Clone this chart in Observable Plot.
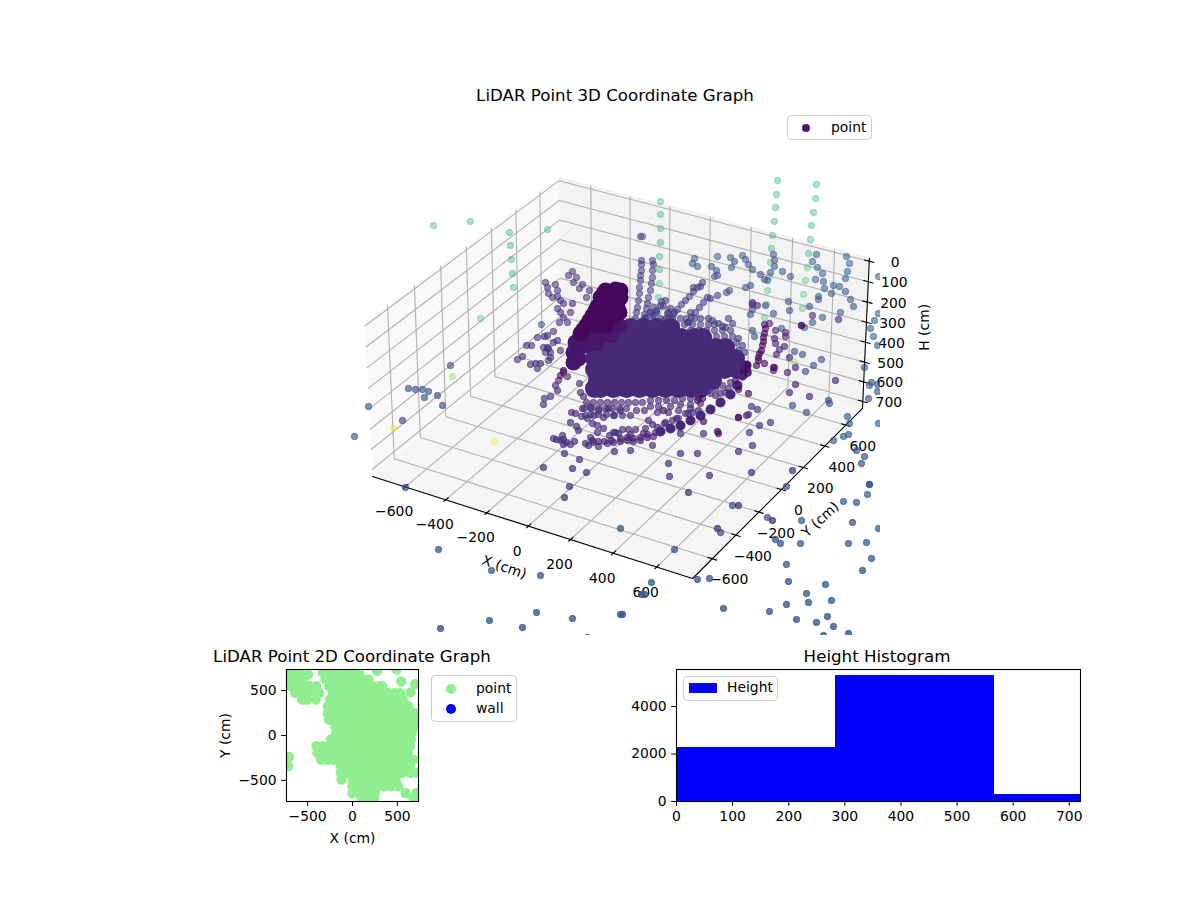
<!DOCTYPE html>
<html><head><meta charset="utf-8">
<script src="https://cdn.jsdelivr.net/npm/d3@7"></script>
<script src="https://cdn.jsdelivr.net/npm/@observablehq/plot@0.6"></script>
<style>
html,body{margin:0;padding:0;background:#fff}
#root{position:relative;width:1200px;height:900px;overflow:hidden;font-family:"DejaVu Sans",sans-serif;color:#000}
#root>div{position:absolute}
.title{font-size:16.67px;transform:translateX(-50%);white-space:nowrap;line-height:1}
.legend{background:rgba(255,255,255,.8);border:1px solid #ccc;border-radius:4px;box-sizing:border-box;font-size:13.9px}
.legend span{position:absolute;white-space:nowrap;line-height:1}
</style></head><body><div id="root"></div>
<script>
// ---- Tick values and labels ----
const xyTicks3D = [-600,-400,-200,0,200,400,600];
const hTicks3D = [0,100,200,300,400,500,600,700];
const ticks2D = [-500,0,500];
const histXTicks = [0,100,200,300,400,500,600,700];
const histYTicks = [0,2000,4000];
// ---- Histogram of heights ----
const binStart = [0,284,567];
const binEnd = [284,567,720];
const binCount = [2280,5300,290];
// ---- 2D plan view, X and Y in cm, row by row (Y, then the Xs) ----
const planRows = [
[700,[-700,-640,-590,-330,-260,-190,-120,-50,20,70]],
[625,[-690,-620,-550,-300,-230,-160,-90,-20,50,120,180]],
[550,[-690,-620,-550,-480,-400,-260,-190,-120,-50,20,90,160,230,300,330]],
[475,[-640,-570,-500,-400,-370,-220,-150,-80,-10,60,130,200,270,340,400,470,530]],
[400,[-560,-505,-409,-250,-210,-140,-70,0,70,140,210,280,350,420,490,560]],
[325,[-275,-210,-140,-70,0,70,140,210,280,350,420,490,560,625]],
[250,[-275,-210,-140,-70,0,70,140,210,280,350,420,490,560,625,690]],
[175,[-260,-190,-120,-50,20,90,160,230,300,370,440,510,580,650,710]],
[100,[-190,-120,-50,20,90,160,230,300,370,440,510,580,650,700]],
[30,[-180,-110,-40,30,100,170,240,310,380,450,520,590,660]],
[-45,[-240,-170,-100,-30,40,110,180,250,320,390,460,530,600,650]],
[-120,[-400,-330,-260,-190,-120,-50,20,90,160,230,300,370,440,510,580,640]],
[-195,[-390,-320,-250,-180,-110,-40,30,100,170,240,310,380,450,520,590,620]],
[-270,[-350,-280,-210,-130,-60,10,80,150,220,290,360,430,510,570,676]],
[-340,[-717,-130,-60,10,80,150,220,290,360,430,500,550,636]],
[-415,[-130,-60,10,80,150,220,290,360,430,500,560,647,725]],
[-490,[-123,0,70,140,210,280,350,420,480]],
[-565,[0,70,140,210,280,350,430,509]],
[-640,[0,70,140,175,210,250,591,714]],
[-690,[100,175,240,676]],
[-238,[-706]]
];
const planExtraX = [-494,275,490,543,695,647];
const planExtraY = [680,721,736,602,572,480];
// ---- 3D scatter: where each point falls on the projected view plane, grouped by colour value ----
const colourTeal = .62, colourGreen = .7, colourLime = .82, colourYellow = .97;
const colourSteel = .3, colourSlate = .25, colourFan = .17, colourPurple = .13, colourDeep = .09, colourDark = .02, colourCore = .11, colourWallLow = .06;
const viewTeal = [[433,225],[470,221],[509,232],[510,245],[511,259],[512,273],[513,287],[547,229],
[660,201],[660,214],[660,228],[660,242],[659,256],[659,269],[777,180],[776,194],[775,207],[774,221],[772,235],[771,248],
[816,184],[815,198],[813,212],[811,225],[810,239],[808,253]];
const viewGreen = [[659,283],[658,297],[658,311],[770,262],[769,276],[767,290],[766,304],[764,317],[807,267],[805,280],[803,294],[802,308],[480,318]];
const viewLime = [[452,376],[794,362]];
const viewYellow = [[393,428],[494,441]];
const viewSteel = [[878,276],[874,320],[870,328],[873,336],[877,345],[864,367],[878,313],[869,385],[877,384],[541,324],
[853,306],[850,299],[845,291],[839,286],[833,285],[831,293],[824,288],[823,281],[822,273],[818,296],[818,299],[822,317],[840,312],[812,322],[804,327],
[845,278],[847,271],[849,263],[846,256],[817,267],[812,261],[816,254],[815,279],
[354,436],[368,406],[438,549],[491,570],[540,575],[489,620],[522,627],[536,612],[572,618],[587,637],[620,614],
[651,582],[709,578],[801,520],[800,543],[786,564],[788,581],[786,604],[796,619],[806,593],[808,602],[816,622],[823,635],[827,616],[833,626],[831,600],[825,584],[848,633],[862,570],[871,558],[866,542],[848,543],[843,501],[867,494],[869,484],[878,528],[878,423],[847,416],[849,423],[848,434],[843,436],[833,440],[829,403],[723,608],[769,611]];
const viewSlate = [[640,236],[642,236],[694,258],[692,263],[697,266],[717,256],[730,257],[734,261],[731,267],[711,266],[716,270],[717,275],[714,276],[742,255],[745,259],[748,264],[752,269],[760,274],[764,279],[767,280],[770,272],[774,266],[774,260],[773,254],[782,271],[790,276],[745,287],[750,285],[726,292],[729,290],
[788,301],[789,310],[809,306],[773,313],[765,305],[752,309],[750,314],[781,328],[752,330],[754,336],[794,351],[802,354],[821,359],[813,365],[805,371],
[408,388],[415,389],[422,389],[428,391],[437,395],[424,397],[450,365],[402,420],[442,405],[405,487],[440,628],[620,528],[622,614],[641,594],[644,594],[697,579],[674,549],[720,532],[732,505],[767,517],[775,539],[780,543],[871,382],[877,391],[868,398],[828,400],[792,405],[806,412],[786,486],[856,450],[861,463],[864,456],[869,484],[856,502],[852,522]];
const viewFan = [[641,260],[641,264],[641,270],[640,275],[640,280],[639,287],[639,293],[638,300],[637,307],[636,312],[635,318],[652,260],[653,264],[652,270],[652,277],[651,283],[650,290],[648,297],[647,303],[646,308],[644,314],[642,320],
[702,282],[697,287],[693,291],[689,296],[685,300],[681,304],[677,309],[673,314],[669,318],[717,295],[710,298],[707,297],[703,302],[699,307],[695,312],[691,317],[687,322],[661,301],[663,306],[660,305],[656,310],[653,315],[693,287],[700,286],[728,318],[732,323],[670,308],[667,313],[663,320],[653,307],[650,312],[645,317],[688,322],[665,300],[712,320],[718,323],[725,327],
[650,312],[656,312],[668,312],[674,312],[690,312],[645,318],[652,318],[660,318],[666,318],[672,318],[680,318],[686,318],[694,318],[700,318],[708,318],
[652,324],[660,324],[668,324],[676,324],[684,324],[692,324],[700,324],[708,324],[714,324],[722,326],[690,330],[698,330],[706,330],[714,330],[722,330],[730,330],
[700,336],[708,336],[716,336],[724,336],[732,336],[738,338],[712,342],[720,342],[728,342],[736,342],[742,345],[722,350],[730,350],[738,350],[744,352],[735,358],[741,360],[745,366],[748,372]];
const viewPurple = [[572,271],[568,275],[576,277],[582,284],[573,282],[579,288],[589,290],[586,297],[545,282],[547,287],[548,293],[552,297],[555,284],[557,290],[557,296],[560,300],[563,303],[557,308],[560,312],[570,312],[563,317],[567,322],[559,322],
[553,331],[547,335],[544,336],[537,337],[526,345],[531,345],[517,359],[522,356],[543,347],[548,348],[553,342],[557,340],[560,350],[550,357],[548,360],[530,364],[535,363],[540,363],[537,368],[547,347],[545,352],[550,352],
[563,372],[567,376],[558,380],[555,385],[557,390],[579,383],[580,392],[583,396],[550,396],[544,398],[543,404],
[543,467],[572,468],[586,472],[569,486],[564,497],[579,459],[564,453],[553,438],[556,439],[560,440],[563,439],[566,442],[570,444],[574,441],[563,444],[562,435],[570,422],[576,426],[578,430],[571,412],[575,413],
[585,443],[588,445],[593,442],[598,446],[607,443],[613,442],[590,437],[597,432],[603,428],[615,432],[609,435],[614,451],[582,408],[585,415],[581,416],[590,407],[593,415],[598,410],[603,417],[608,408],[613,415],[620,410],[592,423],[597,425],[587,418],
[630,450],[652,445],[680,453],[697,453],[668,463],[669,476],[709,475],[688,492],[738,451],[752,445],[751,472],[738,505],[717,528],[772,520],[792,470],[770,422],[759,425],[749,432],[703,433],[680,433],[751,406],[757,409],[746,415],[748,414],[738,417],
[710,393],[715,395],[720,393],[725,392],[730,382],[722,385],[735,385],[715,388],[708,390],[728,388],[700,403],[690,408],[698,410],[688,413],[676,418],[664,423],[652,424],[648,420],[657,427],[665,422],[672,420],[678,418],[685,413],[692,412],[613,432],[622,429],[628,429],[635,429],[645,428],[655,432],[643,433],[630,434],[618,433],
[586,402],[593,402],[600,402],[607,402],[614,402],[621,402],[628,402],[635,402],[642,402],[650,400],[658,400],[666,400],[674,400],[682,398],[690,398],[698,397],
[584,408],[591,408],[598,408],[605,408],[612,408],[619,408],[626,408],[650,406],[658,406],[670,406],[680,404],[690,404],[590,414],[598,414],[606,414],[614,415],[622,415],[630,415],[636,410],[644,410],[657,412],[668,412],[678,410]];
const viewDeep = [[620,441],[627,440],[633,441],[640,440],[647,437],[653,436],[620,438],[627,437],[633,438],[640,437],[647,434],[604,441],[611,440],[592,440],[598,441],
[752,302],[752,304],[757,305],[769,323],[801,325],[812,315],[838,319],[775,330],[785,332],[785,336],[774,338],[775,343],[784,346],[779,349],[776,354],[789,357],[774,367],[773,370],[795,367],[787,372],[835,380],[795,384],[789,392],[809,396],[572,303]];
const viewDark = [[764,324],[765,328],[764,333],[763,337],[763,341],[762,345],[761,350],[759,353],[758,357],[758,360],[756,365],[764,363],[773,367],[801,325],[717,431],[718,433],
[747,364],[747,369],[747,373],[743,370],[735,380],[738,389],[748,393],[702,398],[697,400],[663,410],[703,421],[738,417],[563,370],[560,375]];
// The solid masses where single points can no longer be told apart
const wallMass = [[605,290],[615,289],[620,290],[603,293],[612,293],[600,297],[610,297],[620,297],[597,306],[607,306],[617,306],[619,312],[595,310],[592,315],[602,315],[612,315],[589,320],[586,325],[596,325],[606,325],[583,329],[580,333]];
const wallLow = [[590,335],[600,335],[610,335],[618,325],[575,342],[585,345],[595,343],[573,352],[578,358],[573,362]];
const bandMass = [[660,431],[670,428],[680,425],[690,420],[700,415],[710,409],[720,402],[730,394],[737,385],[742,375],[746,365]];
const coreRows = [
[327,[617,630,643,656,670]],
[337,[605,616,629,642,655,668,681,694,702]],
[347,[598,611,624,637,650,663,676,689,702,715,725]],
[358,[594,607,620,633,646,659,672,685,698,711,724,735]],
[369,[594,607,620,633,646,659,672,685,698,711,724,737]],
[380,[597,610,623,636,649,662,675,688,701,712]],
[388,[594,600,613,626,639,652,665,678,691,700]]
];

// ---- Matplotlib-style 3D view (elevation 30, azimuth -60) ----
const limXY = 733, pad = 1/48;
const paneXY = limXY*(1+2*pad), paneLow = 735, paneTop = -15;
const boxK = 1.8294640721620434/Math.hypot(4,4,3), box=[4*boxK,4*boxK,.553];
const el = 30*Math.PI/180, az = -60*Math.PI/180, dist = 10;
const W=[Math.cos(el)*Math.cos(az),Math.cos(el)*Math.sin(az),Math.sin(el)];
const Un=Math.hypot(W[1],W[0]), U=[-W[1]/Un,W[0]/Un,0];
const Vv=[W[1]*U[2]-W[2]*U[1],W[2]*U[0]-W[0]*U[2],W[0]*U[1]-W[1]*U[0]];
function raw(x,y,h){
  const p=[x/(2*limXY)*box[0],y/(2*limXY)*box[1],((720-h)/720-.5)*box[2]];
  const dp=(a)=>a[0]*p[0]+a[1]*p[1]+a[2]*p[2];
  const d=dist-dp(W);
  return [dp(U)/d,dp(Vv)/d];
}
const aL=raw(-paneXY,-paneXY,paneLow), aR=raw(paneXY,paneXY,paneLow), aF=raw(paneXY,-paneXY,paneLow);
const kU=(862-372)/(aR[0]-aL[0]), kV=(578-476)/(aF[1]-aL[1]);
function proj(x,y,h){const r=raw(x,y,h);return {u:372+(r[0]-aL[0])*kU,v:578+(r[1]-aF[1])*kV};}
function path(list,id){return list.map(([x,y,h])=>({...proj(x,y,h),id}));}

const P=paneXY, L=paneLow, T=paneTop;
const panes=[
 {fill:"#f9f9f9",pts:path([[-P,-P,L],[-P,P,L],[-P,P,T],[-P,-P,T]],"l")},
 {fill:"#f2f2f2",pts:path([[-P,P,L],[P,P,L],[P,P,T],[-P,P,T]],"b")},
 {fill:"#f5f5f5",pts:path([[-P,-P,L],[P,-P,L],[P,P,L],[-P,P,L]],"f")}
];
const grid=[];
xyTicks3D.forEach((t,i)=>{
  grid.push(...path([[t,-P,L],[t,P,L],[t,P,T]],"x"+i));
  grid.push(...path([[P,t,L],[-P,t,L],[-P,t,T]],"y"+i));
});
hTicks3D.forEach((t,i)=>grid.push(...path([[-P,-P,t],[-P,P,t],[P,P,t]],"h"+i)));
const axes=[...path([[-P,-P,L],[P,-P,L]],"ax"),...path([[P,-P,L],[P,P,L]],"ay"),...path([[P,P,L],[P,P,T]],"az")];
xyTicks3D.forEach((t,i)=>{
  axes.push(...path([[t,-P+20,L],[t,-P-14,L]],"tx"+i));
  axes.push(...path([[P-20,t,L],[P+20,t,L]],"ty"+i));
});
hTicks3D.forEach((t,i)=>axes.push(...path([[P-22,P,t],[P+22,P,t]],"th"+i)));
const fmt=d3.format("d"), lab=t=>fmt(t).replace("-","\u2212");
const xLabels=xyTicks3D.map(t=>({...proj(t,-P,L),text:lab(t)}));
const yLabels=xyTicks3D.map(t=>({...proj(P,t,L),text:lab(t)}));
const hLabels=hTicks3D.map(t=>({...proj(P,P,t),text:lab(t)}));

const table=groups=>groups.flatMap(([a,c])=>a.map(([u,v])=>({u,v,c})));
const bright=table([[viewTeal,colourTeal],[viewGreen,colourGreen],[viewLime,colourLime],[viewYellow,colourYellow]]);
const dots=table([[viewSteel,colourSteel],[viewSlate,colourSlate],[viewFan,colourFan]]);
const dotsFront=table([[viewPurple,colourPurple],[viewDeep,colourDeep],[viewDark,colourDark]]);
const core=coreRows.flatMap(([v,us])=>us.map(u=>({u,v})));

const common={r:3.2,strokeWidth:1,x:"u",y:"v",fill:"c",stroke:"c",fillOpacity:"v",strokeOpacity:"v",clip:"frame"};
const txt={x:"u",y:"v",text:"text",fill:"black",fontSize:13.9,lineAnchor:"middle"};
const mass=(data,r,c)=>Plot.dot(data,{x:d=>d[0],y:d=>d[1],r,fill:()=>c,clip:"frame"});
const fig3d=Plot.plot({
  width:1200,height:900,marginLeft:350,marginRight:320,marginTop:105,marginBottom:265,
  x:{domain:[350,880],axis:null},y:{domain:[635,105],axis:null},
  color:{type:"linear",scheme:"viridis",domain:[0,1]},
  opacity:{domain:[105,635],range:[.42,.82]},
  style:{fontFamily:"DejaVu Sans",background:"transparent",overflow:"visible"},
  marks:[
    ...panes.map(p=>Plot.line(p.pts,{x:"u",y:"v",fill:p.fill,stroke:p.fill})),
    Plot.line(grid,{x:"u",y:"v",z:"id",stroke:"#b0b0b0",strokeWidth:1.1}),
    Plot.line(axes,{x:"u",y:"v",z:"id",stroke:"black",strokeWidth:1.1}),
    Plot.text(xLabels,{...txt,dx:-11,dy:25}),
    Plot.text(yLabels,{...txt,dx:17,dy:21}),
    Plot.text(hLabels,{...txt,dx:26,dy:1}),
    Plot.text([{...proj(0,-P,L),text:"X (cm)"}],{...txt,dx:-24,dy:41,rotate:19}),
    Plot.text([{...proj(P,0,L),text:"Y (cm)"}],{...txt,dx:39,dy:30,rotate:-43}),
    Plot.text([{...proj(P,P,350),text:"H (cm)"}],{...txt,dx:59,dy:-5,rotate:-90}),
    Plot.dot(bright,{...common,fillOpacity:.38,strokeOpacity:.38}),
    Plot.dot(dots,common),
    Plot.dot(core,{x:"u",y:"v",r:9.5,fill:()=>colourCore,clip:"frame"}),
    mass(bandMass,5,colourCore),
    mass(wallLow,8,colourWallLow),
    mass(wallMass,8,colourDark),
    Plot.dot(dotsFront,common)
  ]
});
const planData=[...planRows.flatMap(([y,xs])=>xs.map(x=>({x,y}))),...planExtraX.map((x,i)=>({x,y:planExtraY[i]}))];
const fig2d=Plot.plot({
  width:260,height:190,marginLeft:60,marginRight:68,marginTop:10,marginBottom:48,
  x:{domain:[-735,735],ticks:ticks2D,tickSize:4.86,tickPadding:5,label:"X (cm)",labelAnchor:"center",labelArrow:"none",labelOffset:41,tickFormat:lab},
  y:{domain:[-735,735],ticks:ticks2D,tickSize:4.86,tickPadding:5,label:"Y (cm)",labelAnchor:"center",labelArrow:"none",labelOffset:66,tickFormat:lab},
  style:{fontFamily:"DejaVu Sans",fontSize:"13.9px",background:"transparent",color:"black",overflow:"visible"},
  marks:[Plot.dot(planData,{x:"x",y:"y",r:5.2,fill:"#90EE90",clip:"frame"}),Plot.frame({stroke:"black",strokeWidth:1.1})]
});
const histData=binStart.map((s,i)=>({s,e:binEnd[i],n:binCount[i]}));
const figHist=Plot.plot({
  width:480,height:190,marginLeft:56,marginRight:20,marginTop:10,marginBottom:48,
  x:{domain:[0,720],ticks:histXTicks,tickSize:4.86,tickPadding:5,label:null,tickFormat:fmt},
  y:{domain:[0,5558],ticks:histYTicks,tickSize:4.86,tickPadding:5,label:null,tickFormat:fmt},
  style:{fontFamily:"DejaVu Sans",fontSize:"13.9px",background:"transparent",color:"black"},
  marks:[Plot.rect(histData,{x1:"s",x2:"e",y1:()=>0,y2:"n",fill:"blue",shapeRendering:"crispEdges"}),Plot.frame({stroke:"black",strokeWidth:1.1})]
});
const root=document.getElementById("root");
function place(el,l,t){const d=document.createElement("div");d.style.left=l+"px";d.style.top=t+"px";d.appendChild(el);root.appendChild(d);return d;}
place(fig3d,0,0);place(fig2d,226,659);place(figHist,620,659);
function title(t,cx,y){const d=document.createElement("div");d.className="title";d.textContent=t;d.style.left=cx+"px";d.style.top=y+"px";root.appendChild(d);}
title("LiDAR Point 3D Coordinate Graph",615,88);
title("LiDAR Point 2D Coordinate Graph",352,649);
title("Height Histogram",877,649);
function legend(l,t,w,h,items){
  const d=document.createElement("div");d.className="legend";d.style.cssText+=`left:${l}px;top:${t}px;width:${w}px;height:${h}px`;
  items.forEach(it=>{
    const m=document.createElement("span");
    m.style.cssText=`left:${it.mx-l-1-it.mw/2}px;top:${it.my-t-1-it.mh/2}px;width:${it.mw}px;height:${it.mh}px;background:${it.c};border-radius:${it.round?"50%":"0"}`;
    d.appendChild(m);
    const s=document.createElement("span");s.textContent=it.t;s.style.left=(it.tx-l-1)+"px";s.style.top=(it.my-t-1-7)+"px";d.appendChild(s);
  });
  root.appendChild(d);
}
legend(787,115,85,25,[{t:"point",mx:806,my:127.5,mw:8,mh:8,round:true,c:"#46166e",tx:831}]);
legend(431,675,86,47,[{t:"point",mx:451,my:689,mw:10,mh:10,round:true,c:"#90EE90",tx:476},{t:"wall",mx:451,my:709,mw:10,mh:10,round:true,c:"blue",tx:476}]);
legend(683,676,95,25,[{t:"Height",mx:703,my:688,mw:28,mh:10,round:false,c:"blue",tx:727}]);
</script></body></html>
